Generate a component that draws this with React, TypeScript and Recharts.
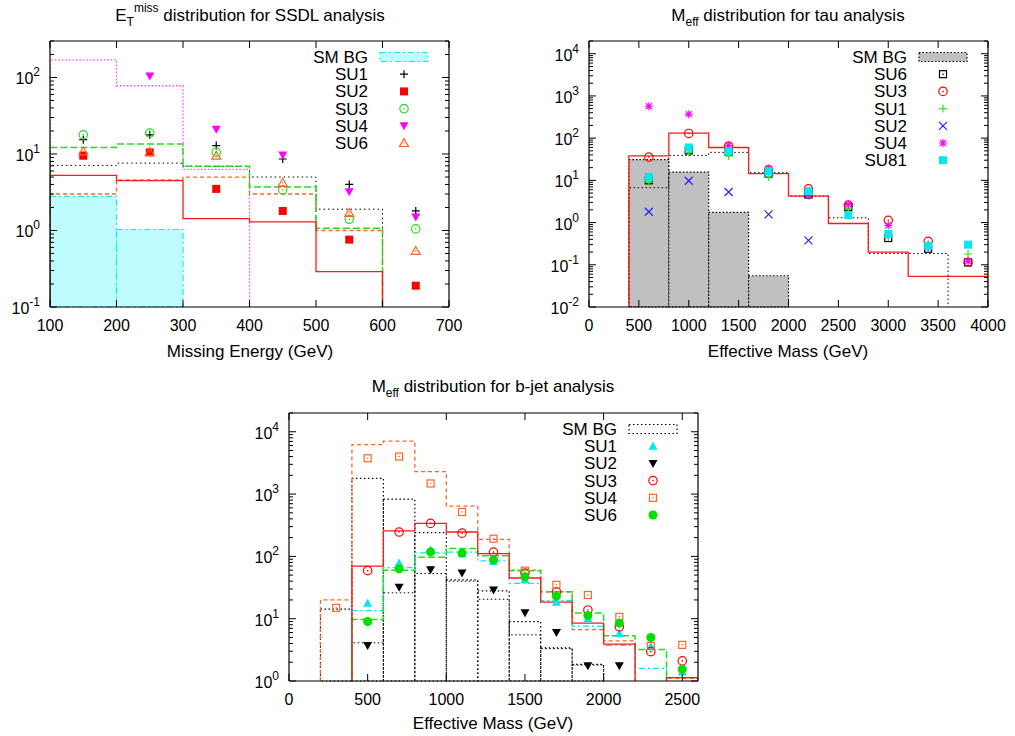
import React from "react";
import { ComposedChart, Line, Scatter, XAxis, YAxis, ReferenceArea } from "recharts";

const FONT = "'Liberation Sans', Arial, Helvetica, sans-serif";

// ---------- E_T^miss, SSDL analysis (bins of 100 GeV) ----------
const ssdlCenters = [150, 250, 350, 450, 550, 650];
const ssdlXTicks = [100, 200, 300, 400, 500, 600, 700];
const ssdlBg = [2.8, 1.03]; // from 100
const ssdlHistSU1 = [7.1, 7.6, 6.9, 5.0, 1.9]; // from 100
const ssdlHistSU2 = [5.25, 4.5, 1.43, 1.3, 0.29];
const ssdlHistSU3 = [12.2, 13.5, 6.9, 3.7, 1.07];
const ssdlHistSU4 = [170, 78, 6.3];
const ssdlHistSU6 = [3.0, 4.6, 5.0, 3.0, 1.0];
const ssdlSU1 = [15.4, 17.8, 12.9, 8.6, 4.0, 1.8];
const ssdlSU2 = [9.5, 10.5, 3.5, 1.8, 0.76, 0.19];
const ssdlSU3 = [17.8, 18.8, 10.5, 3.4, 1.4, 1.05];
const ssdlSU4 = [null, 105, 21, 9.7, 3.2, 1.5];
const ssdlSU6 = [10.8, 10.6, 9.5, 4.2, 1.7, 0.54];

// ---------- M_eff, tau analysis (bins of 400 GeV) ----------
const tauCenters = [600, 1000, 1400, 1800, 2200, 2600, 3000, 3400, 3800];
const tauXTicks = [0, 500, 1000, 1500, 2000, 2500, 3000, 3500, 4000];
const tauBg = [31, 15.7, 1.75, 0.055]; // from 400
const tauHistSU6 = [6.7, 39, 46, 15.2, 4.3, 1.3, 0.185, 0.185]; // from 400
const tauHistSU3 = [38, 131, 60, 14.4, 4.25, 0.95, 0.2, 0.053, 0.053];
const tauSU6 = [10, 51, 47, 14.4, 4.6, 2.3, 0.43, 0.24, 0.114];
const tauSU3 = [35.5, 129, 65, 17.8, 6.3, 2.6, 1.13, 0.36, 0.115];
const tauSU1 = [9.1, 46, 38, 12, 4.6, 2.2, 0.45, 0.25, 0.18];
const tauSU2 = [1.8, 9.8, 5.3, 1.57, 0.38, null, null, null, null];
const tauSU4 = [570, 370, 67, 19, 4.4, 2.7, 0.86, 0.26, 0.12];
const tauSU81 = [12, 60, 49, 16.3, 5.6, 1.5, 0.54, 0.28, 0.3];

// ---------- M_eff, b-jet analysis (bins of 200 GeV) ----------
const bjCenters = [300, 500, 700, 900, 1100, 1300, 1500, 1700, 1900, 2100, 2300, 2500];
const bjXTicks = [0, 500, 1000, 1500, 2000, 2500];
const bjBg = [14.2, 1780, 830, 240, 42, 28, 9, 3.4, 1.85]; // from 200
const bjHistSU1 = [13.5, 66, 114, 117, 85, 37, 19.4, 7.6, 3.75, 1.6]; // from 400
const bjHistSU2 = [4.1, 26, 53, 40, 20.5, 5.5, 3.3, 1.8]; // from 400
const bjHistSU3 = [70, 257, 338, 246, 111, 45, 18.4, 8.5, 3.9, 0.5, 1.13]; // from 400
const bjHistSU4 = [20, 6200, 7100, 2300, 640, 187, 60, 27, 6.7, 4.4, 0.5, 1.1]; // from 200
const bjHistSU6 = [9.7, 60, 97, 134, 102, 59, 27, 12.3, 5.3, 3.2]; // from 400
const bjSU1 = [null, 17.7, 78, 127, 110, 83, 42, 18.4, 10, 5.8, 3.6, 1.4];
const bjSU2 = [null, 3.7, 32, 61, 54, 29, 12.5, 6, 1.76, 1.76, null, null];
const bjSU3 = [null, 59, 246, 338, 236, 117, 54, 27, 13.8, 7.4, 2.96, 2.1];
const bjSU4 = [14.9, 3750, 4000, 1480, 516, 192, 59, 35, 24, 10.7, 3.65, 3.8];
const bjSU6 = [null, 9, 63, 118, 113, 88, 47, 23, 11.2, 8.5, 5, 1.54];

function logTicks(lo: number, hi: number) {
  const out: number[] = [];
  for (let e = Math.round(Math.log10(lo)); Math.pow(10, e) <= hi; e++) {
    for (let m = 1; m <= 9; m++) {
      const v = Number((m * Math.pow(10, e)).toPrecision(6));
      if (v >= lo && v <= hi) out.push(v);
    }
  }
  return out;
}

// histogram outline: rises from the floor at the first edge, drops back at the last
function stepPoints(from: number, width: number, values: number[], floor: number) {
  const pts = [{ x: from, y: floor }];
  values.forEach((v, i) => pts.push({ x: from + i * width, y: v }));
  const end = from + values.length * width;
  pts.push({ x: end, y: values[values.length - 1] });
  pts.push({ x: end, y: floor });
  return pts;
}

function toPoints(xs: number[], ys: (number | null)[]) {
  return xs.map((x, i) => ({ x, y: ys[i] })).filter((p) => p.y != null);
}

const Marker = ({ kind, color, cx, cy }: { kind: string; color: string; cx: number; cy: number }) => {
  const s = 4;
  const dot = <circle cx={cx} cy={cy} r={0.8} fill={color} />;
  switch (kind) {
    case "plus":
      return <path d={`M${cx - s},${cy}H${cx + s}M${cx},${cy - s}V${cy + s}`} stroke={color} strokeWidth={1.2} />;
    case "cross":
      return <path d={`M${cx - s},${cy - s}L${cx + s},${cy + s}M${cx - s},${cy + s}L${cx + s},${cy - s}`} stroke={color} strokeWidth={1.2} />;
    case "star":
      return (
        <path
          d={`M${cx - s},${cy}H${cx + s}M${cx},${cy - s}V${cy + s}M${cx - 3},${cy - 3}L${cx + 3},${cy + 3}M${cx - 3},${cy + 3}L${cx + 3},${cy - 3}`}
          stroke={color}
          strokeWidth={1.2}
        />
      );
    case "fsquare":
      return <rect x={cx - 4} y={cy - 4} width={8} height={8} fill={color} />;
    case "osquare":
      return (
        <g>
          <rect x={cx - 3.5} y={cy - 3.5} width={7} height={7} fill="none" stroke={color} strokeWidth={1.2} />
          {dot}
        </g>
      );
    case "ocircle":
      return (
        <g>
          <circle cx={cx} cy={cy} r={4.2} fill="none" stroke={color} strokeWidth={1.2} />
          {dot}
        </g>
      );
    case "fcircle":
      return <circle cx={cx} cy={cy} r={4.5} fill={color} />;
    case "ftriDown":
      return <path d={`M${cx - 4.5},${cy - 3.5}L${cx + 4.5},${cy - 3.5}L${cx},${cy + 4.5}Z`} fill={color} />;
    case "ftriUp":
      return <path d={`M${cx - 4.5},${cy + 3.5}L${cx + 4.5},${cy + 3.5}L${cx},${cy - 4.5}Z`} fill={color} />;
    case "otriUp":
      return (
        <g>
          <path d={`M${cx - 4.5},${cy + 3.5}L${cx + 4.5},${cy + 3.5}L${cx},${cy - 4.5}Z`} fill="none" stroke={color} strokeWidth={1.2} />
          {dot}
        </g>
      );
    default:
      return null;
  }
};

type Hist = { from: number; values: number[]; color: string; dash?: string; width?: number };
type Pts = { ys: (number | null)[]; kind: string; color: string };
type Boxes = { from: number; values: number[]; fill: string; stroke: string; dash: string };

const yTick = (p: any, side: "l" | "r") => {
  const v = p.payload.value;
  const lg = Math.log10(v);
  const e = Math.round(lg);
  const major = Math.abs(lg - e) < 1e-6;
  const len = major ? 7 : 4;
  const d = side === "l" ? 1 : -1;
  return (
    <g>
      <line x1={p.x} x2={p.x + d * len} y1={p.y} y2={p.y} stroke="#000" />
      {side === "l" && major && (
        <text x={p.x - 10} y={p.y + 7} textAnchor="end" fontSize={16} fontFamily={FONT} fill="#000">
          10<tspan dy={-8} fontSize={12}>{e}</tspan>
        </text>
      )}
    </g>
  );
};

const xTick = (p: any, side: "b" | "t") => (
  <g>
    <line x1={p.x} x2={p.x} y1={p.y} y2={side === "b" ? p.y - 7 : p.y + 7} stroke="#000" />
    {side === "b" && (
      <text x={p.x} y={p.y + 24} textAnchor="middle" fontSize={16} fontFamily={FONT} fill="#000">
        {p.payload.value}
      </text>
    )}
  </g>
);

function Panel(props: {
  left: number;
  top: number;
  width: number;
  height: number;
  margin: { top: number; right: number; bottom: number; left: number };
  yWidth: number;
  binWidth: number;
  xDomain: [number, number];
  xTicks: number[];
  yDomain: [number, number];
  centers: number[];
  boxes: Boxes;
  hists: Hist[];
  points: Pts[];
}) {
  const { binWidth, yDomain, boxes } = props;
  const floor = yDomain[0];
  const yTicks = logTicks(yDomain[0], yDomain[1]);
  return (
    <div style={{ position: "absolute", left: props.left, top: props.top }}>
      <ComposedChart width={props.width} height={props.height} margin={props.margin}>
        <XAxis
          type="number"
          dataKey="x"
          domain={props.xDomain}
          ticks={props.xTicks}
          allowDataOverflow
          interval={0}
          height={30}
          tickSize={0}
          tickMargin={0}
          tickLine={false}
          axisLine={{ stroke: "#000", strokeWidth: 1.2 }}
          tick={(p: any) => xTick(p, "b")}
        />
        <XAxis
          xAxisId="top"
          orientation="top"
          type="number"
          dataKey="x"
          domain={props.xDomain}
          ticks={props.xTicks}
          allowDataOverflow
          interval={0}
          height={1}
          tickSize={0}
          tickMargin={0}
          tickLine={false}
          axisLine={{ stroke: "#000", strokeWidth: 1.2 }}
          tick={(p: any) => xTick(p, "t")}
        />
        <YAxis
          type="number"
          dataKey="y"
          scale="log"
          domain={yDomain}
          ticks={yTicks}
          allowDataOverflow
          interval={0}
          width={props.yWidth}
          tickSize={0}
          tickMargin={0}
          tickLine={false}
          axisLine={{ stroke: "#000", strokeWidth: 1.2 }}
          tick={(p: any) => yTick(p, "l")}
        />
        <YAxis
          yAxisId="r"
          orientation="right"
          type="number"
          dataKey="y"
          scale="log"
          domain={yDomain}
          ticks={yTicks}
          allowDataOverflow
          interval={0}
          width={10}
          tickSize={0}
          tickMargin={0}
          tickLine={false}
          axisLine={{ stroke: "#000", strokeWidth: 1.2 }}
          tick={(p: any) => yTick(p, "r")}
        />
        {boxes.values.map((v, i) => (
          <ReferenceArea
            key={`b${i}`}
            x1={boxes.from + i * binWidth}
            x2={boxes.from + (i + 1) * binWidth}
            y1={floor}
            y2={v}
            fill={boxes.fill}
            fillOpacity={1}
            stroke={boxes.stroke}
            strokeDasharray={boxes.dash}
            strokeWidth={1.2}
          />
        ))}
        {props.hists.map((h, i) => (
          <Line
            key={`h${i}`}
            data={stepPoints(h.from, binWidth, h.values, floor)}
            dataKey="y"
            type="stepAfter"
            stroke={h.color}
            strokeWidth={h.width ?? 1.3}
            strokeDasharray={h.dash}
            dot={false}
            activeDot={false}
            isAnimationActive={false}
          />
        ))}
        {props.points.map((s, i) => (
          <Scatter
            key={`s${i}`}
            data={toPoints(props.centers, s.ys)}
            dataKey="y"
            isAnimationActive={false}
            shape={(p: any) => <Marker kind={s.kind} color={s.color} cx={p.cx} cy={p.cy} />}
          />
        ))}
      </ComposedChart>
    </div>
  );
}

type LegendRow = { label: string; kind: string; color: string };

function LegendBlock({ textX, cx, y0, rows, box }: { textX: number; cx: number; y0: number; rows: LegendRow[]; box: { fill: string; stroke: string; dash: string } }) {
  return (
    <g fontFamily={FONT} fontSize={17} fill="#000">
      {rows.map((r, i) => {
        const y = y0 + i * 17.2;
        return (
          <g key={r.label}>
            <text x={textX} y={y + 6} textAnchor="end">
              {r.label}
            </text>
            {i === 0 ? (
              <rect x={cx - 24} y={y - 4.5} width={48} height={9} fill={box.fill} stroke={box.stroke} strokeDasharray={box.dash} strokeWidth={1.2} />
            ) : (
              <Marker kind={r.kind} color={r.color} cx={cx} cy={y} />
            )}
          </g>
        );
      })}
    </g>
  );
}

const RED = "#ff1a1a";
const GREEN = "#22dd22";
const MAGENTA = "#ff00ff";
const ORANGE = "#ff6626";
const CYAN = "#00e8f0";
const BLUE = "#2222ff";

const ssdlBox = { fill: "#bdfcff", stroke: "#20e4ec", dash: "6 3 2 3" };
const tauBox = { fill: "#c0c0c0", stroke: "#000", dash: "1.5 2" };
const bjBox = { fill: "none", stroke: "#000", dash: "1.5 2.5" };

export default function App() {
  return (
    <div style={{ position: "fixed", left: 0, top: 0, width: 1015, height: 736, background: "#fff" }}>
      <Panel
        left={0}
        top={0}
        width={470}
        height={365}
        margin={{ top: 40, right: 11, bottom: 28, left: 0 }}
        yWidth={50}
        binWidth={100}
        xDomain={[100, 700]}
        xTicks={ssdlXTicks}
        yDomain={[0.1, 300]}
        centers={ssdlCenters}
        boxes={{ from: 100, values: ssdlBg, ...ssdlBox }}
        hists={[
          { from: 100, values: ssdlHistSU4, color: "#ff44ff", dash: "1.5 2" },
          { from: 100, values: ssdlHistSU1, color: "#000", dash: "1.5 3", width: 1 },
          { from: 100, values: ssdlHistSU6, color: ORANGE, dash: "4 3" },
          { from: 100, values: ssdlHistSU3, color: GREEN, dash: "7 3", width: 1.5 },
          { from: 100, values: ssdlHistSU2, color: RED },
        ]}
        points={[
          { ys: ssdlSU1, kind: "plus", color: "#000" },
          { ys: ssdlSU2, kind: "fsquare", color: "#ff0000" },
          { ys: ssdlSU3, kind: "ocircle", color: GREEN },
          { ys: ssdlSU4, kind: "ftriDown", color: MAGENTA },
          { ys: ssdlSU6, kind: "otriUp", color: ORANGE },
        ]}
      />
      <Panel
        left={500}
        top={0}
        width={515}
        height={365}
        margin={{ top: 40, right: 17, bottom: 28, left: 0 }}
        yWidth={89}
        binWidth={400}
        xDomain={[0, 4000]}
        xTicks={tauXTicks}
        yDomain={[0.01, 20000]}
        centers={tauCenters}
        boxes={{ from: 400, values: tauBg, ...tauBox }}
        hists={[
          { from: 400, values: tauHistSU6, color: "#000", dash: "1.5 2.5", width: 1 },
          { from: 400, values: tauHistSU3, color: RED },
        ]}
        points={[
          { ys: tauSU6, kind: "osquare", color: "#000" },
          { ys: tauSU3, kind: "ocircle", color: "#ff0000" },
          { ys: tauSU1, kind: "plus", color: "#22ee22" },
          { ys: tauSU2, kind: "cross", color: BLUE },
          { ys: tauSU4, kind: "star", color: MAGENTA },
          { ys: tauSU81, kind: "fsquare", color: CYAN },
        ]}
      />
      <Panel
        left={240}
        top={370}
        width={480}
        height={366}
        margin={{ top: 42, right: 12, bottom: 25, left: 0 }}
        yWidth={49}
        binWidth={200}
        xDomain={[0, 2600]}
        xTicks={bjXTicks}
        yDomain={[1, 20000]}
        centers={bjCenters}
        boxes={{ from: 200, values: bjBg, ...bjBox }}
        hists={[
          { from: 400, values: bjHistSU2, color: "#000", dash: "1.5 2.5", width: 1 },
          { from: 200, values: bjHistSU4, color: ORANGE, dash: "4 3" },
          { from: 400, values: bjHistSU1, color: CYAN, dash: "6 3 2 3" },
          { from: 400, values: bjHistSU6, color: GREEN, dash: "7 3", width: 1.5 },
          { from: 400, values: bjHistSU3, color: RED },
        ]}
        points={[
          { ys: bjSU1, kind: "ftriUp", color: CYAN },
          { ys: bjSU2, kind: "ftriDown", color: "#000" },
          { ys: bjSU3, kind: "ocircle", color: "#ff0000" },
          { ys: bjSU4, kind: "osquare", color: ORANGE },
          { ys: bjSU6, kind: "fcircle", color: "#00e000" },
        ]}
      />
      <svg width={1015} height={736} style={{ position: "absolute", left: 0, top: 0, pointerEvents: "none" }}>
        <g fontFamily={FONT} fontSize={17} fill="#000" textAnchor="middle">
          <text x={250} y={21}>
            E<tspan dy={5} fontSize={12}>T</tspan>
            <tspan dy={-14} fontSize={12}>miss</tspan>
            <tspan dy={9}> distribution for SSDL analysis</tspan>
          </text>
          <text x={788} y={21}>
            M<tspan dy={5} fontSize={12}>eff</tspan>
            <tspan dy={-5}> distribution for tau analysis</tspan>
          </text>
          <text x={493} y={392}>
            M<tspan dy={5} fontSize={12}>eff</tspan>
            <tspan dy={-5}> distribution for b-jet analysis</tspan>
          </text>
          <text x={250} y={357}>Missing Energy (GeV)</text>
          <text x={788} y={357}>Effective Mass (GeV)</text>
          <text x={493} y={729}>Effective Mass (GeV)</text>
        </g>
        <LegendBlock
          textX={368}
          cx={404}
          y0={57}
          box={ssdlBox}
          rows={[
            { label: "SM BG", kind: "", color: "" },
            { label: "SU1", kind: "plus", color: "#000" },
            { label: "SU2", kind: "fsquare", color: "#ff0000" },
            { label: "SU3", kind: "ocircle", color: GREEN },
            { label: "SU4", kind: "ftriDown", color: MAGENTA },
            { label: "SU6", kind: "otriUp", color: ORANGE },
          ]}
        />
        <LegendBlock
          textX={907}
          cx={943}
          y0={57}
          box={tauBox}
          rows={[
            { label: "SM BG", kind: "", color: "" },
            { label: "SU6", kind: "osquare", color: "#000" },
            { label: "SU3", kind: "ocircle", color: "#ff0000" },
            { label: "SU1", kind: "plus", color: "#22ee22" },
            { label: "SU2", kind: "cross", color: BLUE },
            { label: "SU4", kind: "star", color: MAGENTA },
            { label: "SU81", kind: "fsquare", color: CYAN },
          ]}
        />
        <LegendBlock
          textX={617}
          cx={653}
          y0={429}
          box={{ ...bjBox, fill: "#fff" }}
          rows={[
            { label: "SM BG", kind: "", color: "" },
            { label: "SU1", kind: "ftriUp", color: CYAN },
            { label: "SU2", kind: "ftriDown", color: "#000" },
            { label: "SU3", kind: "ocircle", color: "#ff0000" },
            { label: "SU4", kind: "osquare", color: ORANGE },
            { label: "SU6", kind: "fcircle", color: "#00e000" },
          ]}
        />
      </svg>
    </div>
  );
}
